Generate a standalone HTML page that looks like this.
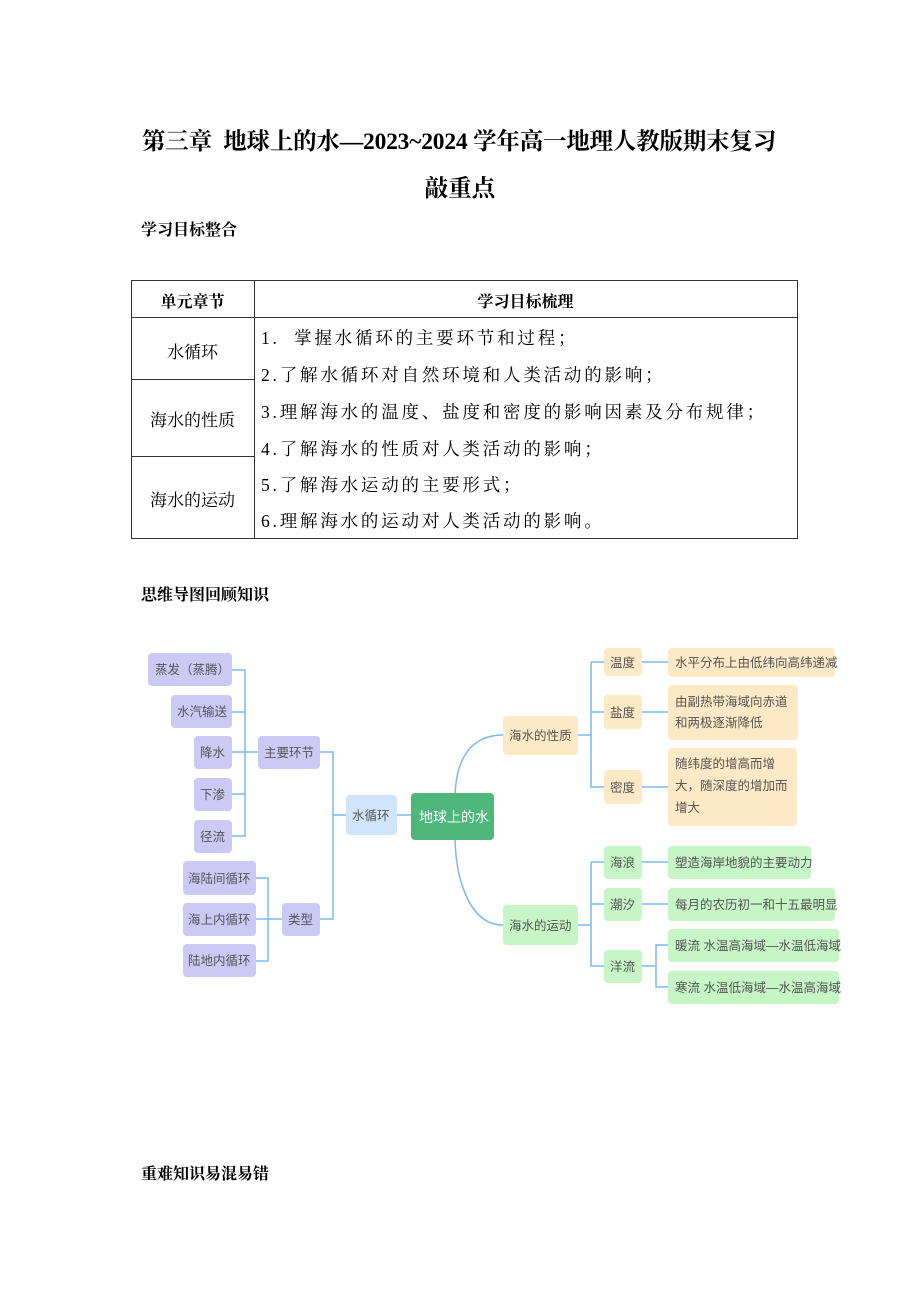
<!DOCTYPE html>
<html><head><meta charset="utf-8"><style>
body{margin:0;background:#fff;width:920px;height:1302px;position:relative;overflow:hidden;font-family:"Liberation Serif","Noto Serif CJK SC",serif;color:#000}
.a{position:absolute;white-space:nowrap}
.t{font-size:23.5px;font-weight:bold}
.h{font-size:16px;font-weight:bold}
.c{font-size:16px}
.r{font-size:17.5px;letter-spacing:2.8px}
</style></head><body>
<div class="a t" style="left:100px;top:122px;width:718px;text-align:center;letter-spacing:-0.2px">第三章&nbsp; 地球上的水—2023~2024 学年高一地理人教版期末复习</div>
<div class="a t" style="left:0;top:169px;width:920px;text-align:center">敲重点</div>
<div class="a h" style="left:141px;top:217px">学习目标整合</div>
<svg class="a" style="left:0;top:0" width="920" height="560">
<g stroke="#333" stroke-width="1" fill="none">
<rect x="131.5" y="280.5" width="666" height="258"/>
<line x1="254.5" y1="280" x2="254.5" y2="539"/>
<line x1="131" y1="317.5" x2="798" y2="317.5"/>
<line x1="131" y1="379.5" x2="254" y2="379.5"/>
<line x1="131" y1="456.5" x2="254" y2="456.5"/>
</g></svg>
<div class="a h" style="left:131px;top:289px;width:123px;text-align:center">单元章节</div>
<div class="a h" style="left:254px;top:289px;width:543px;text-align:center">学习目标梳理</div>
<div class="a c" style="left:131px;top:338px;width:123px;text-align:center;font-size:17px">水循环</div>
<div class="a c" style="left:131px;top:406px;width:123px;text-align:center;font-size:17px">海水的性质</div>
<div class="a c" style="left:131px;top:486px;width:123px;text-align:center;font-size:17px">海水的运动</div>
<div class="a c r" style="left:261px;top:325px">1.&nbsp; 掌握水循环的主要环节和过程；</div>
<div class="a c r" style="left:261px;top:362px">2.了解水循环对自然环境和人类活动的影响；</div>
<div class="a c r" style="left:261px;top:399px">3.理解海水的温度、盐度和密度的影响因素及分布规律；</div>
<div class="a c r" style="left:261px;top:436px">4.了解海水的性质对人类活动的影响；</div>
<div class="a c r" style="left:261px;top:472px">5.了解海水运动的主要形式；</div>
<div class="a c r" style="left:261px;top:508px">6.理解海水的运动对人类活动的影响。</div>
<div class="a h" style="left:141px;top:582px">思维导图回顾知识</div>
<div class="a h" style="left:141px;top:1161px">重难知识易混易错</div>

<svg class="a" style="left:0;top:0;font-family:'Liberation Sans','Noto Sans CJK SC',sans-serif" width="920" height="1100">
<g fill="none" stroke="#7ab8f2" stroke-width="1.5">
<path d="M232 670 H245 V836 H232 M232 712 H245 M232 752 H258 M232 794 H245"/>
<path d="M256 878 H268 V961 H256 M256 919 H282"/>
<path d="M320 752 H333 V919 H320 M333 815 H346"/>
<path d="M397 815 H411"/>
<path d="M455 800 C455 760 470 735 503 735"/>
<path d="M455 834 C455 880 470 925 503 925"/>
<path d="M578 735 H591 M591 662 V787 H604 M591 662 H604 M591 712 H604"/>
<path d="M642 662 H668 M642 712 H668 M642 787 H668"/>
<path d="M578 925 H591 M591 862 V966 H604 M591 862 H604 M591 904 H604"/>
<path d="M642 862 H668 M642 904 H668 M642 966 H656 V945 H668 M656 966 V987 H668"/>
</g>
<g font-size="12.5" fill="#555">
<g fill="#cdc9f5">
<rect x="148" y="653" width="84" height="33" rx="4"/>
<rect x="171" y="695" width="61" height="33" rx="4"/>
<rect x="194" y="736" width="38" height="33" rx="4"/>
<rect x="194" y="778" width="38" height="33" rx="4"/>
<rect x="194" y="820" width="38" height="33" rx="4"/>
<rect x="258" y="736" width="62" height="33" rx="4"/>
<rect x="183" y="861" width="73" height="34" rx="4"/>
<rect x="183" y="903" width="73" height="33" rx="4"/>
<rect x="183" y="944" width="73" height="33" rx="4"/>
<rect x="282" y="903" width="38" height="33" rx="4"/>
</g>
<rect x="346" y="795" width="51" height="40" rx="4" fill="#d0e4fb"/>
<rect x="411" y="793" width="83" height="47" rx="4" fill="#4db87a"/>
<g fill="#fde9c6">
<rect x="503" y="716" width="75" height="39" rx="4"/>
<rect x="604" y="648" width="38" height="28" rx="4"/>
<rect x="668" y="648" width="167" height="29" rx="4"/>
<rect x="604" y="695" width="38" height="34" rx="4"/>
<rect x="668" y="685" width="130" height="55" rx="4"/>
<rect x="604" y="770" width="38" height="34" rx="4"/>
<rect x="668" y="748" width="129" height="78" rx="4"/>
</g>
<g fill="#c6f5c6">
<rect x="503" y="905" width="75" height="40" rx="4"/>
<rect x="604" y="846" width="38" height="33" rx="4"/>
<rect x="668" y="846" width="143" height="33" rx="4"/>
<rect x="604" y="888" width="38" height="33" rx="4"/>
<rect x="668" y="888" width="167" height="33" rx="4"/>
<rect x="604" y="950" width="38" height="33" rx="4"/>
<rect x="668" y="929" width="171" height="33" rx="4"/>
<rect x="668" y="971" width="171" height="33" rx="4"/>
</g>
<text x="155" y="674">蒸发（蒸腾）</text>
<text x="177" y="716">水汽输送</text>
<text x="200" y="757">降水</text>
<text x="200" y="799">下渗</text>
<text x="200" y="841">径流</text>
<text x="264" y="757">主要环节</text>
<text x="188" y="883">海陆间循环</text>
<text x="188" y="924">海上内循环</text>
<text x="188" y="965">陆地内循环</text>
<text x="288" y="924">类型</text>
<text x="352" y="820">水循环</text>
<text x="419" y="822" fill="#fff" font-size="14">地球上的水</text>
<text x="509" y="740">海水的性质</text>
<text x="610" y="667">温度</text>
<text x="675" y="667">水平分布上由低纬向高纬递减</text>
<text x="610" y="717">盐度</text>
<text x="675" y="706">由副热带海域向赤道</text>
<text x="675" y="727">和两极逐渐降低</text>
<text x="610" y="792">密度</text>
<text x="675" y="768">随纬度的增高而增</text>
<text x="675" y="790">大，随深度的增加而</text>
<text x="675" y="812">增大</text>
<text x="509" y="930">海水的运动</text>
<text x="610" y="867">海浪</text>
<text x="675" y="867">塑造海岸地貌的主要动力</text>
<text x="610" y="909">潮汐</text>
<text x="675" y="909">每月的农历初一和十五最明显</text>
<text x="610" y="971">洋流</text>
<text x="675" y="950">暖流 水温高海域—水温低海域</text>
<text x="675" y="992">寒流 水温低海域—水温高海域</text>
</g>
</svg>
</body></html>
